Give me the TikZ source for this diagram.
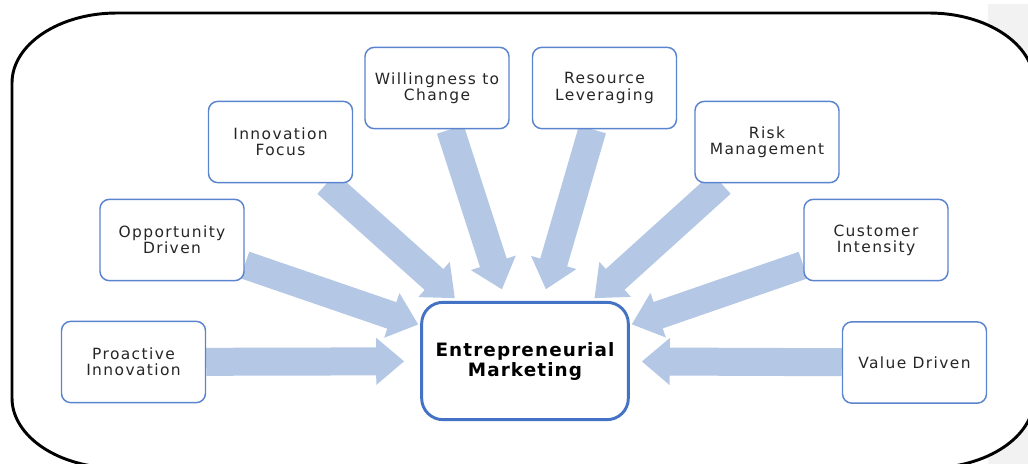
\documentclass[tikz,border=0pt]{standalone}
\usepackage{fontspec}
\setmainfont{DejaVu Sans}
\newfontfamily\topicfont[LetterSpace=9]{DejaVu Sans}
\newfontfamily\hubfont[LetterSpace=6]{DejaVu Sans}
\usetikzlibrary{arrows.meta}

\definecolor{edgeblue}{HTML}{5B84CF}
\definecolor{hubblue}{HTML}{4472C4}
\definecolor{feedblue}{HTML}{B4C8E6}
\definecolor{stripgray}{HTML}{F2F2F2}

\pgfdeclarelayer{frame}
\pgfdeclarelayer{links}
\pgfsetlayers{frame,links,main}

\tikzset{every picture/.style={line width=0.75pt}}
\tikzset{
  topic/.style={draw=edgeblue, line width=1.1pt, fill=white, rounded corners=7pt,
    minimum width=108pt, minimum height=61pt, align=center, text=black!85,
    font=\topicfont\fontsize{11.6}{12.2}\selectfont},
  hub/.style={draw=hubblue, line width=2.2pt, fill=white, rounded corners=16pt,
    minimum width=155pt, minimum height=88pt, align=center, text=black,
    font=\hubfont\bfseries\fontsize{13.8}{15}\selectfont},
  feed/.style={draw=feedblue, line width=21pt, -{Triangle[length=21pt,width=34pt]}}
}

\begin{document}
\begin{tikzpicture}[x=0.75pt,y=0.75pt,yscale=-1,xscale=1]
\useasboundingbox (0,0) rectangle (1028,464);
\clip (0,0) rectangle (1028,464);

\begin{pgfonlayer}{frame}
%Shape: Strip
\fill [stripgray] (988,4) rectangle (1028,464);
%Shape: Rounded Frame
\draw [line width=2.2pt, fill=white] (117,13) -- (929,13)
  arc[start angle=-90, end angle=0, x radius=105, y radius=70] -- (1034,398)
  arc[start angle=0, end angle=90, x radius=105, y radius=70] -- (117,468)
  arc[start angle=90, end angle=180, x radius=105, y radius=70] -- (12,83)
  arc[start angle=180, end angle=270, x radius=105, y radius=70] -- cycle ;
\end{pgfonlayer}

% Text Node
\node [hub] (em) at (525,361) {Entrepreneurial\\Marketing};
% Text Node
\node [topic] (pro) at (133.5,362) {Proactive\\Innovation};
% Text Node
\node [topic] (opp) at (172,240) {Opportunity\\Driven};
% Text Node
\node [topic] (inf) at (280.5,142) {Innovation\\Focus};
% Text Node
\node [topic] (wil) at (437,88) {Willingness to\\Change};
% Text Node
\node [topic] (res) at (604.5,88) {Resource\\Leveraging};
% Text Node
\node [topic] (risk) at (767,142) {Risk\\Management};
% Text Node
\node [topic] (cust) at (876,240) {Customer\\Intensity};
% Text Node
\node [topic] (val) at (914.5,362.5) {Value Driven};

\begin{pgfonlayer}{links}
%Straight Lines
\draw [feed, shorten >=12pt] (pro) -- (em) ;
\draw [feed, shorten >=1.5pt] (opp) -- (em) ;
\draw [feed, shorten >=3pt] (inf) -- (em) ;
\draw [feed, shorten >=9pt] (wil) -- (em) ;
\draw [feed, shorten >=9pt] (res) -- (em) ;
\draw [feed, shorten >=3pt] (risk) -- (em) ;
\draw [feed, shorten >=1.5pt] (cust) -- (em) ;
\draw [feed, shorten >=9pt] (val) -- (em) ;
\end{pgfonlayer}

\end{tikzpicture}
\end{document}
